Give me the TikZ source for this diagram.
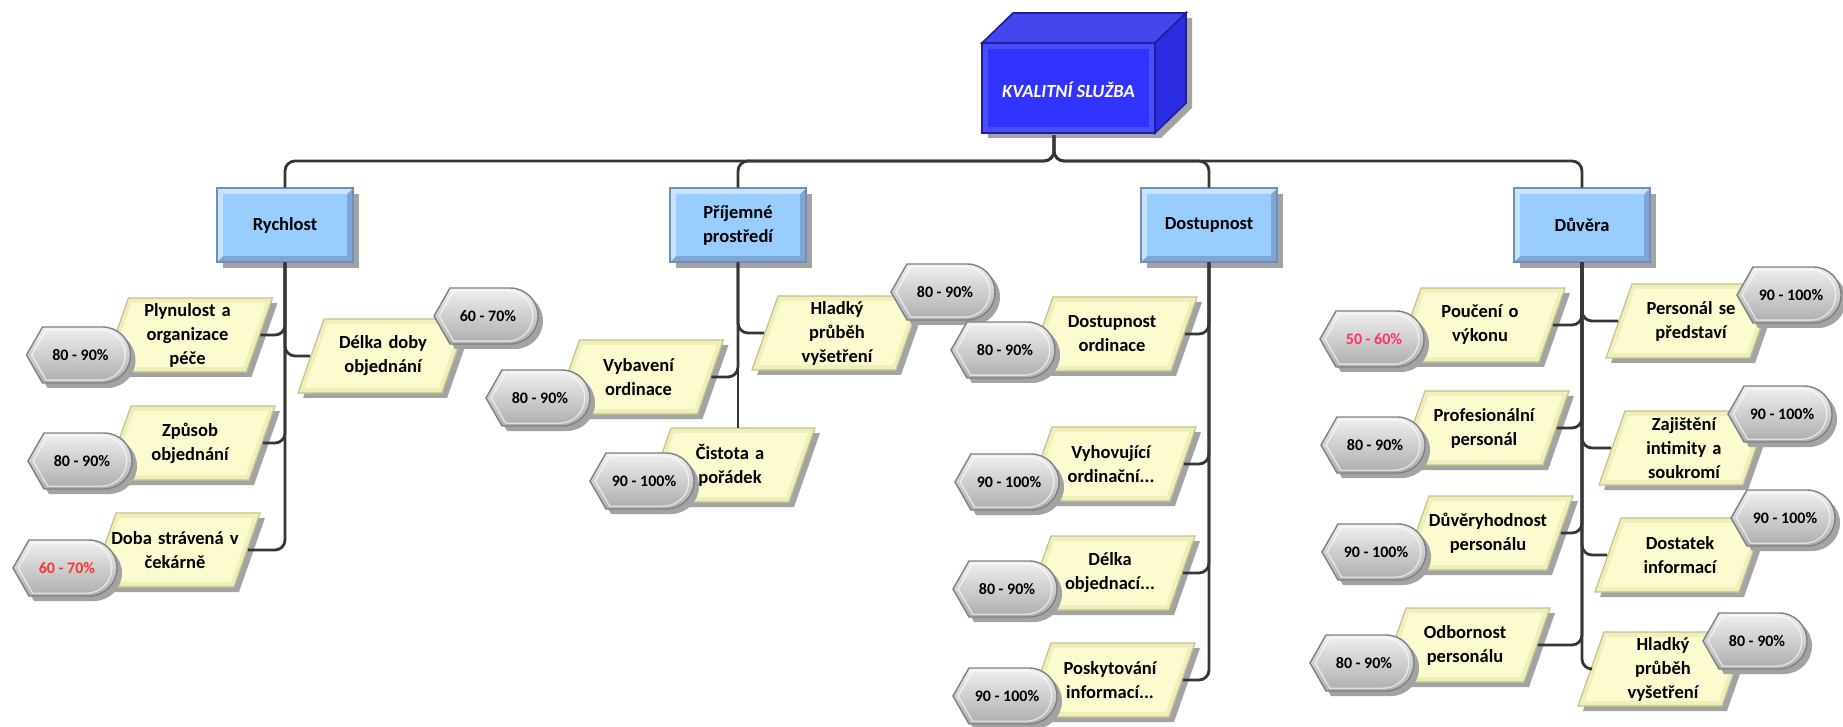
\documentclass[tikz,border=0pt]{standalone}
\usepackage{fontspec}
\setmainfont{Carlito}
\definecolor{linec}{HTML}{363636}
\definecolor{shadowc}{HTML}{A3A3A3}
\definecolor{paraedge}{HTML}{C2C28C}
\definecolor{paraband}{HTML}{F0EEBA}
\definecolor{parafill}{HTML}{FCFBD0}
\definecolor{gtop}{HTML}{F0F0F0}
\definecolor{gbot}{HTML}{ADADAD}
\definecolor{gedge}{HTML}{808080}
\definecolor{catedge}{HTML}{6E8FB9}
\definecolor{catfill}{HTML}{99CCFF}
\definecolor{catlight}{HTML}{C8E3FF}
\definecolor{catdark}{HTML}{7FA5D4}
\definecolor{cubeedge}{HTML}{1E1EA0}
\definecolor{cubefront}{HTML}{3333FF}
\definecolor{cubeband}{HTML}{4C4CFF}
\definecolor{cubetop}{HTML}{4545EE}
\definecolor{cubeside}{HTML}{2C2CE0}
\definecolor{lowred}{HTML}{FF3333}
\definecolor{lowpink}{HTML}{FF3366}

\tikzset{
  conn/.style={draw=linec, line width=1.4pt, rounded corners=5pt},
  leaftext/.style={inner sep=0pt, minimum width=72.5pt, minimum height=37pt,
    text width=68pt, align=center, font=\fontsize{9.25}{12}\selectfont\bfseries},
  cattext/.style={inner sep=0pt, minimum width=68pt, minimum height=37pt,
    text width=62pt, align=center, font=\fontsize{9.25}{12}\selectfont\bfseries},
  gaugetext/.style={inner sep=0pt, font=\fontsize{8}{9}\selectfont\bfseries},
  cubetext/.style={inner sep=0pt, minimum width=86.5pt, minimum height=45pt,
    text=white, font=\fontsize{9.25}{12}\selectfont\bfseries\itshape},
}

% outline of the grey value badge: pointed left end, round right end
\def\gaugeoutline{(-52,0) -- (-36,-28) -- (24,-28)
  .. controls (39.5,-28) and (52,-15.5) .. (52,0)
  .. controls (52,15.5) and (39.5,28) .. (24,28) -- (-36,28) -- cycle}
\def\paraoutline{(-59,-37) -- (85,-37) -- (59,37) -- (-85,37) -- cycle}

% yellow slanted box with its label node
\newcommand\leafshape[4]{%
  \begin{scope}[shift={(#2,#3)}]
    \fill[shadowc, shift={(5,5)}] \paraoutline;
    \filldraw[fill=paraband, draw=paraedge, line width=0.6pt] \paraoutline;
    \fill[parafill] (-55.8,-32) -- (78.2,-32) -- (55.8,32) -- (-78.2,32) -- cycle;
    \node[leaftext] (#1) at (0,0) {#4};
  \end{scope}}

% grey value badge
\newcommand\gauge[5]{%
  \begin{scope}[shift={(#2,#3)}]
    \fill[shadowc, shift={(5,5)}] \gaugeoutline;
    \path[top color=gtop, bottom color=gbot, draw=gedge, line width=0.7pt] \gaugeoutline;
    \draw[white, opacity=0.6, line width=0.7pt, scale=0.9] \gaugeoutline;
    \node[gaugetext, text=#4] (#1) at (2,0) {#5};
  \end{scope}}

% light blue category box
\newcommand\catbox[4]{%
  \begin{scope}[shift={(#2,#3)}]
    \fill[shadowc] (-62,-31) rectangle (74,43);
    \fill[catdark] (-68,-37) rectangle (68,37);
    \fill[catlight] (-68,-37) -- (68,-37) -- (62,-31) -- (-62,-31) -- (-62,31) -- (-68,37) -- cycle;
    \fill[catfill] (-62,-31) rectangle (62,31);
    \draw[catedge, line width=0.8pt] (-68,-37) rectangle (68,37);
    \node[cattext] (#1) at (0,0) {#4};
  \end{scope}}

\begin{document}
\begin{tikzpicture}[x=0.5pt, y=-0.5pt]
\fill[white] (0,0) rectangle (1843,727);
\useasboundingbox (0,0) rectangle (1843,727);

% root block drawn as a cube
\fill[shadowc, shift={(6,5)}] (982,43) -- (1013,13) -- (1186,13) -- (1186,103) -- (1155,133) -- (982,133) -- cycle;
\filldraw[fill=cubetop, draw=cubeedge, line width=0.8pt] (982,43) -- (1013,13) -- (1186,13) -- (1155,43) -- cycle;
\filldraw[fill=cubeside, draw=cubeedge, line width=0.8pt] (1155,43) -- (1186,13) -- (1186,103) -- (1155,133) -- cycle;
\filldraw[fill=cubeband, draw=cubeedge, line width=0.8pt] (982,43) rectangle (1155,133);
\fill[cubefront] (988,49) rectangle (1149,127);
\node[cubetext] (root) at (1068.5,90) {KVALITNÍ SLUŽBA};

% categories
\catbox{rych}{285}{225}{Rychlost}
\catbox{prij}{738}{225}{Příjemné\\prostředí}
\catbox{dost}{1209}{225}{Dostupnost}
\catbox{duve}{1582}{225}{Důvěra}

% leaves
\leafshape{rA}{187.5}{335}{Plynulost a\\organizace\\péče}
\gauge{rAg}{78.5}{355}{black}{80 - 90\%}
\leafshape{rB}{190}{443}{Způsob\\objednání}
\gauge{rBg}{80}{461}{black}{80 - 90\%}
\leafshape{rC}{175}{550}{Doba strávená v\\čekárně}
\gauge{rCg}{65}{568}{lowred}{60 - 70\%}
\leafshape{rD}{383}{356}{Délka doby\\objednání}
\gauge{rDg}{486}{316}{black}{60 - 70\%}

\leafshape{pA}{638.5}{377}{Vybavení\\ordinace}
\gauge{pAg}{538}{398}{black}{80 - 90\%}
\leafshape{pB}{730}{465}{Čistota a\\pořádek}
\gauge{pBg}{642}{481}{black}{90 - 100\%}
\leafshape{pC}{837}{333}{Hladký\\průběh\\vyšetření}
\gauge{pCg}{943}{292}{black}{80 - 90\%}

\leafshape{dA}{1112}{334}{Dostupnost\\ordinace}
\gauge{dAg}{1003}{350}{black}{80 - 90\%}
\leafshape{dB}{1111}{464}{Vyhovující\\ordinační...}
\gauge{dBg}{1007}{482}{black}{90 - 100\%}
\leafshape{dC}{1110}{573}{Délka\\objednací...}
\gauge{dCg}{1005}{589}{black}{80 - 90\%}
\leafshape{dD}{1110}{680}{Poskytování\\informací...}
\gauge{dDg}{1005}{696}{black}{90 - 100\%}

\leafshape{vA}{1480}{325}{Poučení o\\výkonu}
\gauge{vAg}{1372}{339}{lowpink}{50 - 60\%}
\leafshape{vB}{1484}{428}{Profesionální\\personál}
\gauge{vBg}{1373}{445}{black}{80 - 90\%}
\leafshape{vC}{1488}{533}{Důvěryhodnost\\personálu}
\gauge{vCg}{1374}{552}{black}{90 - 100\%}
\leafshape{vD}{1465}{645}{Odbornost\\personálu}
\gauge{vDg}{1362}{663}{black}{80 - 90\%}
\leafshape{vE}{1691}{321}{Personál se\\představí}
\gauge{vEg}{1789}{295}{black}{90 - 100\%}
\leafshape{vF}{1684}{448}{Zajištění\\intimity a\\soukromí}
\gauge{vFg}{1780}{414}{black}{90 - 100\%}
\leafshape{vG}{1680}{555}{Dostatek\\informací}
\gauge{vGg}{1783}{518}{black}{90 - 100\%}
\leafshape{vH}{1663}{669}{Hladký\\průběh\\vyšetření}
\gauge{vHg}{1755}{641}{black}{80 - 90\%}

% connectors from the root to the categories
\coordinate (hub) at (1054,161);
\draw[conn] ([xshift=-7.25pt]root.south) -- (hub) -| (rych.north);
\draw[conn] ([xshift=-7.25pt]root.south) -- (hub) -| (prij.north);
\draw[conn] ([xshift=-7.25pt]root.south) -- (hub) -| (dost.north);
\draw[conn] ([xshift=-7.25pt]root.south) -- (hub) -| (duve.north);

% connectors from the categories to their items
\foreach \c in {rA,rB,rC} \draw[conn] (rych.south) |- (\c.east);
\draw[conn] (rych.south) |- (rD.west);
\draw[conn] (prij.south) |- (pA.east);
\draw[conn] (prij.south) -- (prij.south |- pB.north);
\draw[conn] (prij.south) |- (pC.west);
\foreach \c in {dA,dB,dC,dD} \draw[conn] (dost.south) |- (\c.east);
\foreach \c in {vA,vB,vC,vD} \draw[conn] (duve.south) |- (\c.east);
\foreach \c in {vE,vF,vG,vH} \draw[conn] (duve.south) |- (\c.west);
\end{tikzpicture}
\end{document}
